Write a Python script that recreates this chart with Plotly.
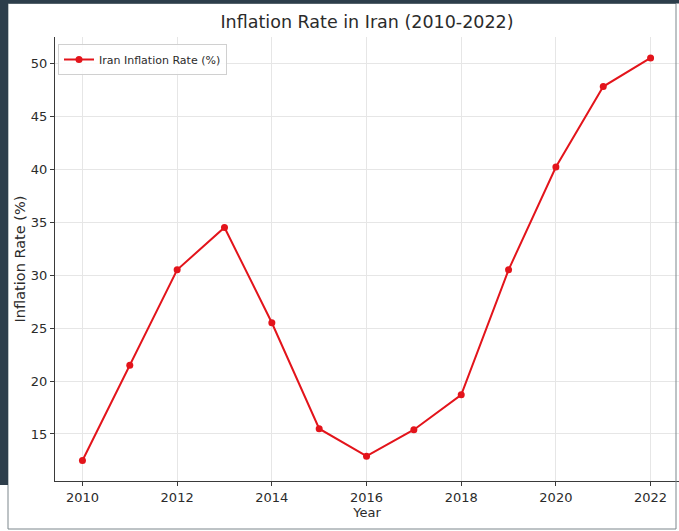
import plotly.graph_objects as go

years = [2010, 2011, 2012, 2013, 2014, 2015, 2016, 2017, 2018, 2019, 2020, 2021, 2022]
inflation = [12.5, 21.5, 30.5, 34.5, 25.5, 15.5, 12.9, 15.4, 18.7, 30.5, 40.2, 47.8, 50.5]
series_name = "Iran Inflation Rate (%)"
title_text = "Inflation Rate in Iran (2010-2022)"
x_title = "Year"
y_title = "Inflation Rate (%)"
x_ticks = [2010, 2012, 2014, 2016, 2018, 2020, 2022]
y_ticks = [15, 20, 25, 30, 35, 40, 45, 50]

W, H = 679, 531
ML, MR, MT, MB = 55, 0, 37, 50
PW, PH = W - ML - MR, H - MT - MB


def px(x):
    return (x - ML) / PW


def py(y):
    return (H - MB - y) / PH


FONT = "DejaVu Sans"
TXT = "#2b2b2b"
DARK = "#2d3e4b"
BORDER = "#7d878c"

fig = go.Figure()
fig.add_trace(go.Scatter(
    x=years, y=inflation, mode="lines+markers", name=series_name,
    line=dict(color="#e3141b", width=2),
    marker=dict(color="#e3141b", size=7, symbol="circle"),
    showlegend=True,
))

shapes = [
    # picture frame border
    dict(type="rect", xref="paper", yref="paper",
         x0=px(8), x1=px(676), y0=py(529), y1=py(3.5),
         line=dict(color=BORDER, width=1), fillcolor="rgba(0,0,0,0)", layer="above"),
    # dark band on top
    dict(type="rect", xref="paper", yref="paper",
         x0=px(0), x1=px(W), y0=py(3.5), y1=py(0),
         line=dict(width=0), fillcolor=DARK, layer="above"),
    # dark band on left
    dict(type="rect", xref="paper", yref="paper",
         x0=px(0), x1=px(8), y0=py(485), y1=py(0),
         line=dict(width=0), fillcolor=DARK, layer="above"),
]

fig.update_layout(
    width=W, height=H,
    margin=dict(l=ML, r=MR, t=MT, b=MB, autoexpand=False),
    paper_bgcolor="white", plot_bgcolor="white",
    font=dict(family=FONT, color=TXT, size=13),
    title=dict(text=title_text, x=px(367), xref="paper", xanchor="center",
               y=1 - 22 / H, yref="container", yanchor="middle",
               font=dict(family=FONT, size=17.5, color=TXT)),
    xaxis=dict(
        range=[2009.42, 2022.6], tickvals=x_ticks, ticktext=[str(v) for v in x_ticks],
        showgrid=True, gridcolor="#e6e6e6", gridwidth=1,
        showline=True, linecolor="#3a3a3a", linewidth=1.2,
        ticks="outside", ticklen=4, tickcolor="#3a3a3a",
        tickfont=dict(size=13), zeroline=False, automargin=False,
        title=dict(text=x_title, font=dict(size=13), standoff=4),
    ),
    yaxis=dict(
        range=[10.56, 52.48], tickvals=y_ticks, ticktext=[str(v) for v in y_ticks],
        showgrid=True, gridcolor="#e6e6e6", gridwidth=1,
        showline=True, linecolor="#3a3a3a", linewidth=1.2,
        ticks="outside", ticklen=4, tickcolor="#3a3a3a",
        tickfont=dict(size=13), zeroline=False, automargin=False,
        title=dict(text=y_title, font=dict(size=14.5), standoff=1),
    ),
    legend=dict(
        x=px(58), y=py(44), xanchor="left", yanchor="top",
        bgcolor="rgba(255,255,255,0.85)", bordercolor="#d0d0d0", borderwidth=1,
        font=dict(size=11, color=TXT), itemwidth=30, tracegroupgap=0,
    ),
    shapes=shapes,
)

fig.write_html("out.html", config={"displayModeBar": False},
               post_script="document.body.style.margin='0';document.body.style.overflow='hidden';")
